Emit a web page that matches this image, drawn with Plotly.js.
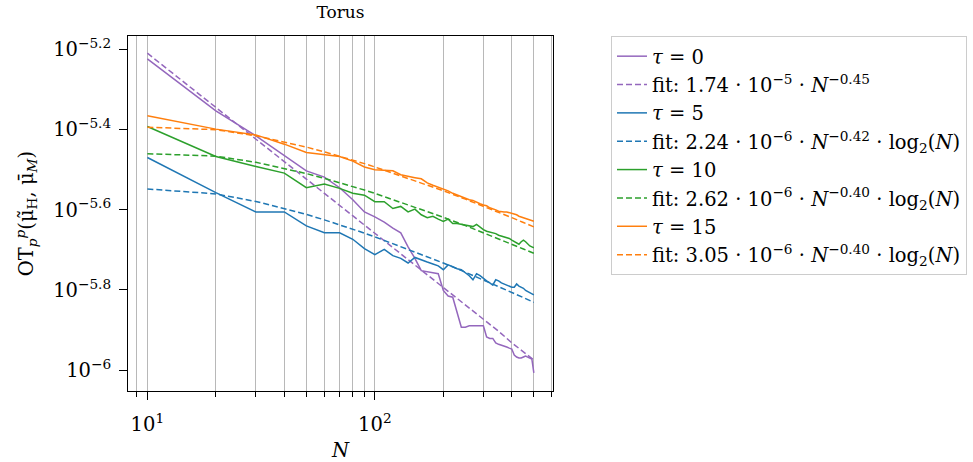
<!DOCTYPE html>
<html>
<head>
<meta charset="utf-8">
<script src="https://cdn.plot.ly/plotly-3.0.1.min.js"></script>
<style>html,body{margin:0;padding:0;background:#fff;}#chart{width:973px;height:462px;}</style>
</head>
<body>
<div id="chart"></div>
<script>
// ---- data ----
const N = [10,20,30,40,50,60,70,80,90,100,110,120,130,140,150,160,170,180,190,200,
           210,220,230,240,250,260,270,280,290,300,310,320,330,340,350,360,370,380,390,400,
           410,420,430,440,450,460,470,480,490,500];

const tau0 = [5.97e-6,4.43e-6,3.84e-6,3.42e-6,3.14e-6,3.03e-6,2.85e-6,2.66e-6,2.48e-6,2.41e-6,
              2.34e-6,2.26e-6,2.20e-6,2.03e-6,1.90e-6,1.77e-6,1.76e-6,1.75e-6,1.74e-6,1.58e-6,
              1.53e-6,1.52e-6,1.40e-6,1.28e-6,1.28e-6,1.29e-6,1.29e-6,1.29e-6,1.29e-6,1.29e-6,
              1.21e-6,1.20e-6,1.20e-6,1.17e-6,1.16e-6,1.155e-6,1.148e-6,1.142e-6,1.135e-6,1.129e-6,
              1.091e-6,1.078e-6,1.072e-6,1.072e-6,1.078e-6,1.084e-6,1.078e-6,1.072e-6,1.066e-6,9.84e-7];

const tau5 = [3.39e-6,2.77e-6,2.48e-6,2.48e-6,2.29e-6,2.20e-6,2.20e-6,2.12e-6,2.01e-6,1.94e-6,
              2.00e-6,1.93e-6,1.90e-6,1.85e-6,1.91e-6,1.88e-6,1.86e-6,1.84e-6,1.82e-6,1.78e-6,
              1.83e-6,1.81e-6,1.79e-6,1.78e-6,1.75e-6,1.72e-6,1.68e-6,1.74e-6,1.72e-6,1.69e-6,
              1.67e-6,1.65e-6,1.63e-6,1.68e-6,1.67e-6,1.65e-6,1.64e-6,1.63e-6,1.62e-6,1.61e-6,
              1.61e-6,1.64e-6,1.62e-6,1.61e-6,1.60e-6,1.58e-6,1.57e-6,1.56e-6,1.55e-6,1.54e-6];

const tau10 = [4.05e-6,3.41e-6,3.22e-6,3.10e-6,2.85e-6,2.91e-6,2.84e-6,2.76e-6,2.73e-6,2.63e-6,
               2.63e-6,2.53e-6,2.56e-6,2.48e-6,2.52e-6,2.44e-6,2.40e-6,2.42e-6,2.38e-6,2.35e-6,
               2.38e-6,2.32e-6,2.32e-6,2.31e-6,2.30e-6,2.29e-6,2.28e-6,2.31e-6,2.27e-6,2.24e-6,
               2.22e-6,2.21e-6,2.20e-6,2.19e-6,2.17e-6,2.16e-6,2.15e-6,2.145e-6,2.13e-6,2.11e-6,
               2.09e-6,2.07e-6,2.06e-6,2.09e-6,2.11e-6,2.09e-6,2.06e-6,2.04e-6,2.03e-6,2.02e-6];

const tau15 = [4.31e-6,3.99e-6,3.86e-6,3.66e-6,3.49e-6,3.44e-6,3.41e-6,3.32e-6,3.21e-6,3.16e-6,
               3.15e-6,3.14e-6,3.07e-6,3.04e-6,3.02e-6,3.00e-6,2.93e-6,2.89e-6,2.86e-6,2.82e-6,
               2.80e-6,2.76e-6,2.73e-6,2.71e-6,2.68e-6,2.66e-6,2.65e-6,2.63e-6,2.60e-6,2.58e-6,
               2.57e-6,2.54e-6,2.53e-6,2.51e-6,2.49e-6,2.48e-6,2.48e-6,2.48e-6,2.47e-6,2.46e-6,
               2.45e-6,2.44e-6,2.42e-6,2.41e-6,2.40e-6,2.39e-6,2.38e-6,2.37e-6,2.36e-6,2.35e-6];

const Nfit = [10,20,30,40,50,60,70,80,90,100,150,200,250,300,350,400,450,500];

const fit0  = [6.17e-6,4.52e-6,3.77e-6,3.31e-6,2.99e-6,2.76e-6,2.57e-6,2.42e-6,2.30e-6,2.19e-6,
               1.83e-6,1.60e-6,1.45e-6,1.34e-6,1.25e-6,1.17e-6,1.11e-6,1.06e-6];
const fit5  = [2.83e-6,2.751e-6,2.634e-6,2.532e-6,2.445e-6,2.370e-6,2.305e-6,2.248e-6,2.196e-6,2.150e-6,
               1.974e-6,1.850e-6,1.755e-6,1.679e-6,1.616e-6,1.563e-6,1.517e-6,1.476e-6];
const fit10 = [3.465e-6,3.417e-6,3.298e-6,3.188e-6,3.092e-6,3.008e-6,2.936e-6,2.871e-6,2.812e-6,2.759e-6,
               2.553e-6,2.406e-6,2.293e-6,2.202e-6,2.126e-6,2.062e-6,2.005e-6,1.956e-6];
const fit15 = [4.034e-6,3.978e-6,3.840e-6,3.712e-6,3.600e-6,3.502e-6,3.418e-6,3.342e-6,3.273e-6,3.211e-6,
               2.972e-6,2.801e-6,2.669e-6,2.564e-6,2.475e-6,2.400e-6,2.334e-6,2.277e-6];

const names = [
  "<i>τ</i> = 0",
  "fit: 1.74 · 10<sup>−5</sup> · <i>N</i><sup>−0.45</sup>",
  "<i>τ</i> = 5",
  "fit: 2.24 · 10<sup>−6</sup> · <i>N</i><sup>−0.42</sup> · log<sub>2</sub>(<i>N</i>)",
  "<i>τ</i> = 10",
  "fit: 2.62 · 10<sup>−6</sup> · <i>N</i><sup>−0.40</sup> · log<sub>2</sub>(<i>N</i>)",
  "<i>τ</i> = 15",
  "fit: 3.05 · 10<sup>−6</sup> · <i>N</i><sup>−0.40</sup> · log<sub>2</sub>(<i>N</i>)"
];

const xMajorTicks = [10, 100];
const xMajorLabels = ["10<sup>1</sup>", "10<sup>2</sup>"];
const xMinorTicks = [9,20,30,40,50,60,70,80,90,200,300,400,500,600];
const yTickExps = [-5.2, -5.4, -5.6, -5.8, -6];
const yTickLabels = ["10<sup>−5.2</sup>","10<sup>−5.4</sup>","10<sup>−5.6</sup>","10<sup>−5.8</sup>","10<sup>−6</sup>"];

// ---- styling ----
const colors = ["#9467bd", "#1f77b4", "#2ca02c", "#ff7f0e"];
const FONT = "DejaVu Serif, Liberation Serif, serif";
const FS = 19.5;
const LW = 1.5;
const DASH = "6px,3px";

const solidY = [tau0, tau5, tau10, tau15];
const fitY = [fit0, fit5, fit10, fit15];
const traces = [];
for (let i = 0; i < 4; i++) {
  traces.push({x: N, y: solidY[i], type: "scatter", mode: "lines", name: names[2*i],
               legendgroup: "g" + (2*i), line: {color: colors[i], width: LW}});
  traces.push({x: Nfit, y: fitY[i], type: "scatter", mode: "lines", name: names[2*i+1],
               legendgroup: "g" + (2*i+1), line: {color: colors[i], width: LW, dash: DASH}});
}

const layout = {
  width: 973, height: 462,
  margin: {l: 128, r: 420, t: 36, b: 71, autoexpand: false},
  paper_bgcolor: "#ffffff", plot_bgcolor: "#ffffff",
  font: {family: FONT, size: FS, color: "#000"},
  showlegend: true,
  title: {text: "Torus", font: {family: FONT, size: 17, color: "#000"},
          x: 0.5, xref: "paper", xanchor: "center", y: 1 - 12/462, yref: "container", yanchor: "middle"},
  xaxis: {
    type: "log", range: [Math.log10(8.22), Math.log10(607)],
    tickmode: "array", tickvals: xMajorTicks, ticktext: xMajorLabels,
    ticks: "outside", ticklen: 8, tickwidth: 1, tickcolor: "#000",
    ticklabelstandoff: 8,
    showgrid: true, gridcolor: "#b8b8b8", gridwidth: 1,
    minor: {tickmode: "array", tickvals: xMinorTicks, ticks: "outside", ticklen: 5,
            tickwidth: 1, tickcolor: "#000", showgrid: true, gridcolor: "#b8b8b8", gridwidth: 1},
    showline: true, mirror: true, linecolor: "#000", linewidth: 1,
    zeroline: false,
    tickfont: {family: FONT, size: FS},
    title: {text: "<i>N</i>", font: {family: FONT, size: FS}, standoff: 10}
  },
  yaxis: {
    type: "log", range: [-6.052, -5.1668],
    tickmode: "array", tickvals: yTickExps.map(e => Math.pow(10, e)), ticktext: yTickLabels,
    ticks: "outside", ticklen: 8, tickwidth: 1, tickcolor: "#000",
    ticklabelstandoff: 4,
    showgrid: false,
    showline: true, mirror: true, linecolor: "#000", linewidth: 1,
    zeroline: false,
    tickfont: {family: FONT, size: FS},
    title: {text: "OT<sub><i>p</i></sub><sup><i>p</i></sup>(μ̃<sub>H</sub>, μ̄<sub><i>M</i></sub>)",
            font: {family: FONT, size: FS}, standoff: 14}
  },
  legend: {
    x: (611 - 128) / 425, xanchor: "left", y: 1.0, yanchor: "top",
    bgcolor: "#ffffff", bordercolor: "#cccccc", borderwidth: 1,
    font: {family: FONT, size: FS, color: "#000"},
    tracegroupgap: 2, traceorder: "normal"
  }
};

Plotly.newPlot("chart", traces, layout, {displayModeBar: false, staticPlot: true});
</script>
</body>
</html>
